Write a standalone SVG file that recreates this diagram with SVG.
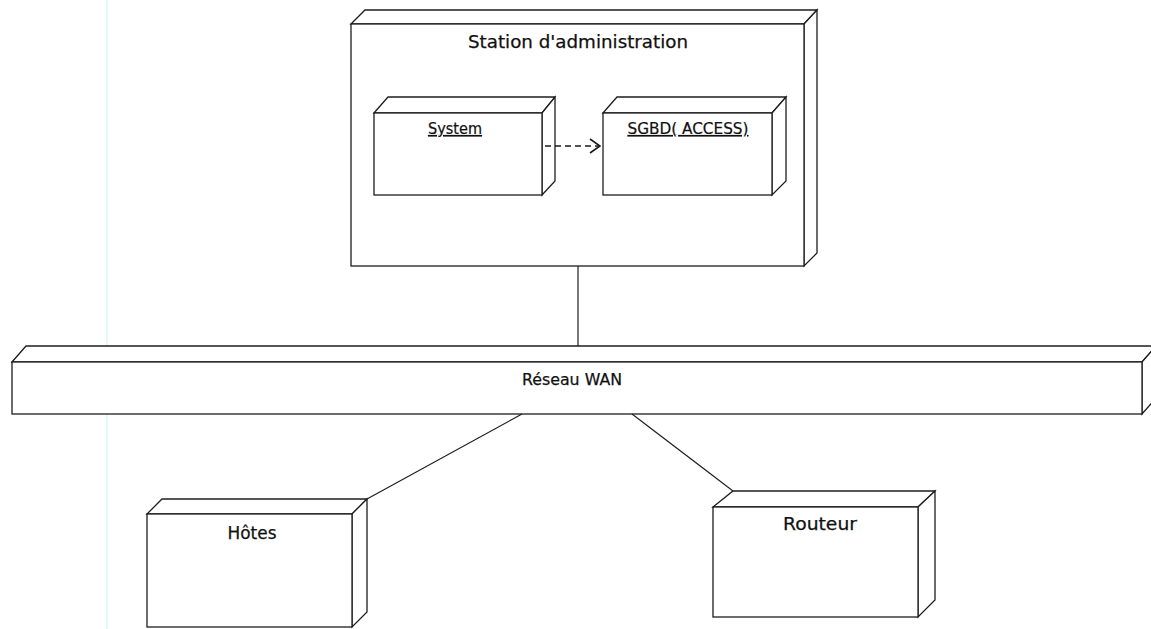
<svg xmlns="http://www.w3.org/2000/svg" width="1151" height="629" viewBox="0 0 1151 629">
  <style>
    .box { fill: #ffffff; stroke: #1e1e1e; stroke-width: 1.3; stroke-linejoin: miter; }
    .lbl { font-family: "DejaVu Sans", "Liberation Sans", sans-serif; fill: #111; stroke: #111; stroke-width: 0.25; text-anchor: middle; }
    .art { font-family: "DejaVu Sans Condensed", "DejaVu Sans", sans-serif; fill: #111; stroke: #111; stroke-width: 0.2; text-anchor: middle; text-decoration: underline; }
    .link { stroke: #1e1e1e; stroke-width: 1.2; fill: none; }
    .dep { stroke: #1a1a1a; stroke-width: 1.7; fill: none; stroke-dasharray: 6,4; }
  </style>
  <defs>
    <marker id="open" viewBox="0 0 12 16" refX="11" refY="8" markerWidth="12" markerHeight="16" markerUnits="userSpaceOnUse" orient="auto">
      <path d="M1,1 L11,8 L1,15" fill="none" stroke="#1a1a1a" stroke-width="1.6"/>
    </marker>
  </defs>
  <rect width="1151" height="629" fill="#ffffff"/>
  <!-- margin rule -->
  <line x1="107" y1="0" x2="107" y2="629" stroke="#dff6f6" stroke-width="1.5"/>

  <g id="station">
    <path class="box" d="M351,24 L365,10 L817,10 L804,24 Z"/>
    <path class="box" d="M804,24 L817,10 L817,253 L804,266 Z"/>
    <rect class="box" x="351" y="24" width="453" height="242"/>
    <text class="lbl" x="578" y="48" font-size="17" textLength="220" lengthAdjust="spacingAndGlyphs">Station d'administration</text>
  </g>

  <g id="system">
    <path class="box" d="M374,113 L388,97 L555,97 L542,113 Z"/>
    <path class="box" d="M542,113 L555,97 L555,181 L542,195 Z"/>
    <rect class="box" x="374" y="113" width="168" height="82"/>
    <text class="art" x="455" y="134" font-size="15" textLength="54" lengthAdjust="spacingAndGlyphs">System</text>
  </g>

  <g id="sgbd">
    <path class="box" d="M603,113 L617,97 L786,97 L772,113 Z"/>
    <path class="box" d="M772,113 L786,97 L786,181 L772,195 Z"/>
    <rect class="box" x="603" y="113" width="169" height="82"/>
    <text class="art" x="688" y="134" font-size="15" textLength="121" lengthAdjust="spacingAndGlyphs">SGBD( ACCESS)</text>
  </g>

  <g id="wan">
    <path class="box" d="M12,362 L26,346 L1156,346 L1142,362 Z"/>
    <path class="box" d="M1142,362 L1156,346 L1156,398 L1142,414 Z"/>
    <rect class="box" x="12" y="362" width="1130" height="52"/>
    <text class="lbl" x="572" y="385" font-size="16" textLength="100" lengthAdjust="spacingAndGlyphs">Réseau WAN</text>
  </g>

  <g id="hotes">
    <path class="box" d="M147,514 L162,499 L367,499 L352,514 Z"/>
    <path class="box" d="M352,514 L367,499 L367,612 L352,627 Z"/>
    <rect class="box" x="147" y="514" width="205" height="113"/>
    <text class="lbl" x="252" y="539" font-size="17" textLength="49" lengthAdjust="spacingAndGlyphs">Hôtes</text>
  </g>

  <g id="routeur">
    <path class="box" d="M713,507 L733,491 L935,491 L918,507 Z"/>
    <path class="box" d="M918,507 L935,491 L935,600 L918,617 Z"/>
    <rect class="box" x="713" y="507" width="205" height="110"/>
    <text class="lbl" x="820" y="530" font-size="17" textLength="74" lengthAdjust="spacingAndGlyphs">Routeur</text>
  </g>

  <g id="connectors">
    <line class="link" x1="578" y1="266" x2="578" y2="346"/>
    <line class="link" x1="522" y1="414" x2="367" y2="499"/>
    <line class="link" x1="632" y1="414" x2="733" y2="491"/>
    <line class="dep" x1="545" y1="146" x2="600" y2="146" marker-end="url(#open)"/>
  </g>
</svg>
